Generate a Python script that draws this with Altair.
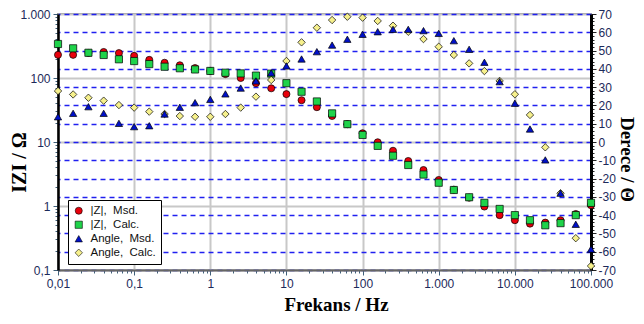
import altair as alt
import pandas as pd

freq = [0.01, 0.0158, 0.0251, 0.0398, 0.0631, 0.1, 0.158, 0.251, 0.398, 0.631,
        1, 1.58, 2.51, 3.98, 6.31, 10, 15.8, 25.1, 39.8, 63.1,
        100, 158, 251, 398, 631, 1000, 1580, 2510, 3980, 6310,
        10000, 15800, 25100, 39800, 63100, 100000]

z_msd = [230, 230, 246, 255, 245, 222, 192, 173, 158, 143, 129, 115, 100, 83, 69, 56,
         45, 35, 25.5, 19, 13.7, 9.9, 7.3, 5.05, 3.65, 2.55, 1.8, 1.35, 0.98, 0.72,
         0.60, 0.53, 0.55, 0.60, 0.75, 1.03]
z_calc = [340, 291, 248, 229, 196, 184, 165, 150, 142, 136, 129, 121, 118, 109, 117, 83,
          61, 43, 28, 19, 12.9, 8.7, 6.1, 4.37, 3.1, 2.31, 1.78, 1.37, 1.12, 0.9,
          0.72, 0.60, 0.50, 0.54, 0.72, 1.12]
angle_msd = [13.8, 15.7, 19.3, 15.7, 10.2, 8.4, 8.9, 15.3, 19, 21.5, 23.3, 26.3, 29.5,
             33.4, 37.8, 41.6, 45.4, 49.4, 53, 56.2, 58.9, 60.3, 61.6, 61.6, 60.9, 59.4,
             55.4, 50.7, 43.6, 33, 21.2, 7.1, -9.8, -28, -45, -58.6]
angle_calc = [27.9, 26, 24.2, 22.6, 20.2, 18.8, 16.6, 15.3, 14.2, 13.8, 13.8, 15.3, 18.8,
              24.8, 33.9, 44.3, 54.5, 62.5, 66.7, 68.5, 68, 66.2, 63.6, 60.3, 56.3, 52.1,
              47.6, 43, 38.8, 33.4, 26.1, 14.8, -2.9, -28, -52.6, -67.8]

series_names = ["|Z|,\u00a0\u00a0Msd.", "|Z|,\u00a0\u00a0Calc.",
                "Angle,\u00a0\u00a0Msd.", "Angle,\u00a0\u00a0Calc."]
series_colors = ["#e8000b", "#1fd34a", "#0010c8", "#f6f08c"]
series_shapes = ["circle", "square", "triangle-up", "diamond"]
series_sizes = [50, 55, 115, 60]

x_decades = [0.01, 0.1, 1, 10, 100, 1000, 10000, 100000]
y_decades = [0.1, 1, 10, 100, 1000]
x_tick_vals = [m * d for d in x_decades[:-1] for m in range(1, 10)] + [100000]
y_tick_vals = [m * d for d in y_decades[:-1] for m in range(1, 10)] + [1000]
angle_ticks = list(range(-70, 71, 2))

df_z = pd.DataFrame({
    "freq": freq * 2,
    "value": z_msd + z_calc,
    "series": [series_names[0]] * len(freq) + [series_names[1]] * len(freq),
})
df_a = pd.DataFrame({
    "freq": freq * 2,
    "value": angle_calc + angle_msd,
    "series": [series_names[3]] * len(freq) + [series_names[2]] * len(freq),
})

is_decade = "abs(log(datum.value)/LN10 - round(log(datum.value)/LN10)) < 0.001"
label_color = "#1c2a5a"

x_label_expr = (
    "datum.value < 0.05 ? '0,01' : datum.value < 0.5 ? '0,1' : "
    "datum.value < 500 ? format(datum.value, 'd') : datum.value < 5000 ? '1.000' : "
    "datum.value < 50000 ? '10.000' : '100.000'"
)
y_label_expr = (
    "datum.value < 0.5 ? '0,1' : datum.value < 500 ? format(datum.value, 'd') : '1.000'"
)

x_enc = alt.X(
    "freq:Q",
    scale=alt.Scale(type="log", domain=[0.01, 100000], nice=False),
    axis=alt.Axis(
        values=x_tick_vals,
        labelExpr=f"{is_decade} ? ({x_label_expr}) : ''",
        title="Frekans / Hz",
        titleFont="Liberation Serif", titleFontSize=19, titleFontWeight="bold",
        titleColor="black", titlePadding=6, titleX=278,
        labelFont="Liberation Sans", labelFontSize=12, labelColor=label_color,
        labelPadding=3, labelOverlap=False, labelFlush=False,
        tickColor="#40607a",
        tickSize={"condition": {"test": is_decade, "value": 5}, "value": 3},
        domainColor="#666666", domainWidth=2,
        grid=True, gridColor="#c8c8c8", gridWidth=2,
        gridOpacity={"condition": {"test": is_decade, "value": 1}, "value": 0},
    ),
)

shared_color = alt.Color(
    "series:N",
    scale=alt.Scale(domain=series_names, range=series_colors),
    legend=alt.Legend(
        title=None, orient="none", legendX=10, legendY=186,
        fillColor="white", strokeColor="black", padding=5,
        labelFont="Liberation Sans", labelFontSize=11.5, labelColor="#111111",
        symbolSize=40, symbolStrokeColor="black", symbolStrokeWidth=0.6,
        rowPadding=1, labelOffset=6, labelLimit=200,
    ),
)
shared_shape = alt.Shape(
    "series:N",
    scale=alt.Scale(domain=series_names, range=series_shapes),
    legend=alt.Legend(title=None, orient="none", legendX=10, legendY=186),
)
shared_size = alt.Size(
    "series:N",
    scale=alt.Scale(domain=series_names, range=series_sizes),
    legend=None,
)

z_layer = alt.Chart(df_z).mark_point(
    filled=True, stroke="black", strokeWidth=0.7, opacity=1
).encode(
    x=x_enc,
    y=alt.Y(
        "value:Q",
        scale=alt.Scale(type="log", domain=[0.1, 1000], nice=False),
        axis=alt.Axis(
            orient="left", values=y_tick_vals,
            labelExpr=f"{is_decade} ? ({y_label_expr}) : ''",
            title="IZI / Ω",
            titleFont="Liberation Serif", titleFontSize=20, titleFontWeight="bold",
            titleColor="black", titleX=-39, titleY=148, titleBaseline="middle",
            titleAngle=270,
            labelFont="Liberation Sans", labelFontSize=12, labelColor=label_color,
            labelPadding=3, labelOverlap=False, labelFlush=False,
            tickColor="#40607a",
            tickSize={"condition": {"test": is_decade, "value": 5}, "value": 3},
            domainColor="black", domainWidth=2.5,
            grid=True, gridColor="#c8c8c8", gridWidth=2,
            gridOpacity={"condition": {"test": is_decade, "value": 1}, "value": 0},
        ),
    ),
    color=shared_color,
    shape=shared_shape,
    size=shared_size,
)

a_layer = alt.Chart(df_a).mark_point(
    filled=True, stroke="black", strokeWidth=0.7, opacity=1
).encode(
    x=x_enc,
    y=alt.Y(
        "value:Q",
        scale=alt.Scale(domain=[-70, 70], nice=False),
        axis=alt.Axis(
            orient="right", values=angle_ticks,
            labelExpr="datum.value % 10 === 0 ? '' + datum.value : ''",
            title="Derece / Θ", titleAngle=90,
            titleFont="Liberation Serif", titleFontSize=19, titleFontWeight="bold",
            titleColor="black", titleX=35, titleY=145, titleBaseline="middle",
            labelFont="Liberation Sans", labelFontSize=12, labelColor=label_color,
            labelPadding=2, labelOverlap=False, labelFlush=False,
            tickColor="#222222",
            tickSize={"condition": {"test": "datum.value % 10 === 0", "value": 5}, "value": 3},
            domainColor="black", domainWidth=3,
            grid=True, gridColor="#2020f0", gridWidth=1.3, gridDash=[5, 4],
            gridOpacity={"condition": {"test": "datum.value % 10 === 0", "value": 1}, "value": 0},
        ),
    ),
    color=shared_color,
    shape=shared_shape,
    size=shared_size,
)

chart = alt.layer(z_layer, a_layer).resolve_scale(
    y="independent"
).properties(
    width=533, height=256,
    autosize=alt.AutoSizeParams(type="none"),
    padding={"left": 50, "top": 6, "right": 45, "bottom": 46},
    background="white",
).configure_view(
    stroke="#999999", strokeWidth=2
)

chart.save("out.html", embed_options={"renderer": "svg", "actions": False})
